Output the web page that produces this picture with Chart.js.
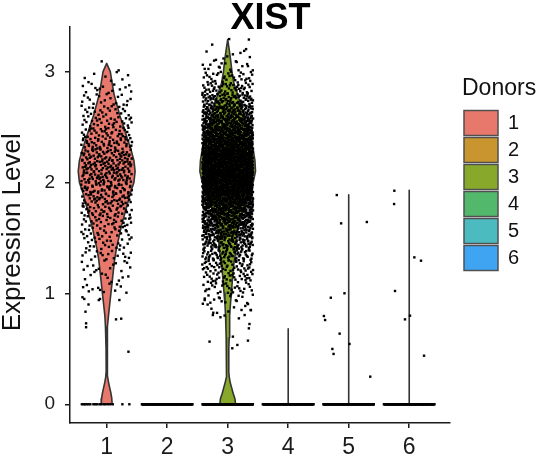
<!DOCTYPE html>
<html>
<head>
<meta charset="utf-8">
<title>XIST</title>
<script src="https://cdn.jsdelivr.net/npm/chart.js@4.4.1/dist/chart.umd.min.js"></script>
<style>
  html, body { margin: 0; padding: 0; background: #ffffff; }
</style>
</head>
<body>
<canvas id="violinChart" width="541" height="456"></canvas>
<script>
// categories and axis ticks
var donors = [1, 2, 3, 4, 5, 6];
var donorColors = ['#E9786C', '#C9952F', '#87A82A', '#52B86C', '#4CBBC0', '#3FA5F2'];
var yTicks = [0, 1, 2, 3];

// violin outlines: expression level -> half width (category units)
var violinLevels1 = [0, 0.05, 0.1, 0.15, 0.2, 0.25, 0.3, 0.4, 0.5, 0.6, 0.7, 0.8, 0.9, 1.0, 1.1, 1.2, 1.3, 1.4, 1.5, 1.6, 1.7, 1.8, 1.9, 2.0, 2.1, 2.2, 2.3, 2.4, 2.5, 2.6, 2.7, 2.8, 2.9, 3.0, 3.075];
var violinWidths1 = [0.09, 0.085, 0.07, 0.05, 0.03, 0.015, 0.008, 0.008, 0.01, 0.015, 0.02, 0.03, 0.05, 0.07, 0.09, 0.11, 0.13, 0.16, 0.2, 0.24, 0.29, 0.34, 0.39, 0.45, 0.47, 0.45, 0.4, 0.34, 0.28, 0.22, 0.17, 0.12, 0.09, 0.06, 0];
var violinLevels3 = [0, 0.05, 0.1, 0.15, 0.2, 0.25, 0.3, 0.4, 0.5, 0.6, 0.7, 0.8, 0.9, 1.0, 1.1, 1.2, 1.3, 1.4, 1.5, 1.6, 1.7, 1.8, 1.9, 2.0, 2.1, 2.2, 2.3, 2.4, 2.5, 2.6, 2.7, 2.8, 2.9, 3.0, 3.1, 3.2, 3.29];
var violinWidths3 = [0.13, 0.12, 0.09, 0.065, 0.04, 0.025, 0.017, 0.017, 0.02, 0.025, 0.03, 0.035, 0.045, 0.06, 0.075, 0.09, 0.11, 0.14, 0.15, 0.17, 0.21, 0.28, 0.35, 0.42, 0.46, 0.45, 0.42, 0.37, 0.32, 0.27, 0.22, 0.16, 0.1, 0.07, 0.05, 0.025, 0];
// donors 4-6 are flat: only the max value shows
var violinTops = [null, null, null, 0.68, 1.89, 1.93];

// jittered cells: counts per 0.1 bin
var binSize = 0.1;
var cloudStart1 = 1.0;
var cloudCounts1 = [12, 10, 14, 18, 22, 26, 32, 40, 48, 55, 60, 60, 55, 46, 38, 30, 24, 18, 14, 8, 2];
var cloudStart3 = 0.8;
var cloudCounts3 = [10, 18, 28, 38, 50, 65, 85, 110, 140, 170, 200, 230, 245, 250, 235, 210, 180, 145, 110, 80, 52, 32, 18, 8, 3];

// sparse cells [jitter, level]
var sparse1 = [[-0.40, 0.965], [-0.37, 0.95], [-0.30, 0.90], [-0.13, 0.94], [-0.11, 0.95], [-0.35, 0.835], [-0.34, 0.73], [-0.34, 0.695], [0.155, 0.766], [0.24, 0.772], [0.36, 0.474], [0.21, 0.94]];
var sparse3 = [[-0.30, 0.565], [0.086, 0.61], [0.076, 0.505], [0.16, 0.535], [0.335, 0.574], [0.35, 0.685], [0.36, 0.724], [0.38, 0.85], [0.185, 0.775], [0.28, 0.805], [-0.12, 0.785], [-0.245, 0.805], [-0.38, 0.94], [0.35, 3.29]];
var sparse5 = [[-0.197, 1.887], [-0.125, 1.632], [0.30, 1.644], [-0.07, 1.001], [-0.296, 0.961], [-0.41, 0.796], [-0.39, 0.76], [-0.15, 0.637], [0.013, 0.544], [-0.27, 0.499], [-0.25, 0.454], [0.356, 0.249]];
var sparse6 = [[-0.246, 1.926], [-0.25, 1.806], [0.085, 1.325], [0.195, 1.295], [-0.235, 1.022], [-0.07, 0.766], [0.013, 0.799], [0.245, 0.438]];
// cells at zero
var zeroOffsets1 = [-0.41, -0.38, -0.36, -0.33, -0.30, -0.27, -0.22, -0.19, -0.16, -0.12, -0.09, -0.05, -0.02, 0.02, 0.06, 0.10, 0.26, 0.375];
var zeroCounts = [0, 120, 140, 120, 120, 120];

var jitterWidth = 0.42;

// low discrepancy sequence to place cells inside a bin (no randomness)
function halton(i, b) {
    var f = 1, r = 0;
    while (i > 0) {
        f = f / b;
        r += f * (i % b);
        i = Math.floor(i / b);
    }
    return r;
}

var seq = 1;
function cloudPoints(center, start, counts) {
    var pts = [];
    for (var b = 0; b < counts.length; b++) {
        for (var k = 0; k < counts[b]; k++) {
            pts.push({
                x: center + (halton(seq, 3) * 2 - 1) * jitterWidth,
                y: start + b * binSize + halton(seq, 2) * binSize
            });
            seq++;
        }
    }
    return pts;
}

function zeroPoints(center, n) {
    var pts = [];
    for (var k = 0; k < n; k++) {
        pts.push({ x: center + (halton(seq, 3) * 2 - 1) * jitterWidth, y: 0 });
        seq++;
    }
    return pts;
}

function sparsePoints(center, list) {
    return list.map(function (p) { return { x: center + p[0], y: p[1] }; });
}

function violinOutline(center, levels, widths) {
    var pts = [];
    for (var i = 0; i < levels.length; i++) pts.push({ x: center + widths[i], y: levels[i] });
    for (var j = levels.length - 1; j >= 0; j--) pts.push({ x: center - widths[j], y: levels[j] });
    pts.push(pts[0]);
    return pts;
}

var datasets = [];

// violins
function addViolin(idx, outline) {
    datasets.push({
        label: 'violin' + donors[idx],
        data: outline,
        showLine: true,
        fill: 'shape',
        backgroundColor: donorColors[idx],
        borderColor: '#333333',
        borderWidth: 1.6,
        borderJoinStyle: 'round',
        pointRadius: 0,
        tension: 0,
        order: 1
    });
}
addViolin(0, violinOutline(donors[0], violinLevels1, violinWidths1));
addViolin(2, violinOutline(donors[2], violinLevels3, violinWidths3));
for (var v = 0; v < donors.length; v++) {
    if (violinTops[v] !== null) {
        addViolin(v, violinOutline(donors[v], [0, violinTops[v]], [0, 0]));
    }
}

// jittered cells
var cells = [];
cells = cells.concat(sparsePoints(donors[0], zeroOffsets1.map(function (d) { return [d, 0]; })));
cells = cells.concat(sparsePoints(donors[0], sparse1));
cells = cells.concat(cloudPoints(donors[0], cloudStart1, cloudCounts1));
cells = cells.concat(sparsePoints(donors[2], sparse3));
cells = cells.concat(cloudPoints(donors[2], cloudStart3, cloudCounts3));
cells = cells.concat(sparsePoints(donors[4], sparse5));
cells = cells.concat(sparsePoints(donors[5], sparse6));
for (var z = 0; z < donors.length; z++) {
    cells = cells.concat(zeroPoints(donors[z], zeroCounts[z]));
}
datasets.push({
    label: 'cells',
    data: cells,
    pointRadius: 1.7,
    pointStyle: 'rect',
    pointBackgroundColor: '#000000',
    pointBorderWidth: 0,
    order: 0
});

// the legend box gets a fixed width so that it starts where the reference legend starts
var legendWidth = {
    id: 'legendWidth',
    beforeLayout: function (chart) {
        var lg = chart.legend;
        if (lg && !lg._fixedWidth) {
            var fit = lg.fit;
            lg.fit = function () {
                fit.call(this);
                this.width = 79;
            };
            lg._fixedWidth = true;
        }
    }
};

Chart.defaults.font.family = "'Liberation Sans', Arial, Helvetica, sans-serif";
Chart.defaults.color = '#1a1a1a';

var axisColor = '#1a1a1a';
var ctx = document.getElementById('violinChart').getContext('2d');
var myChart = new Chart(ctx, {
    type: 'scatter',
    data: { datasets: datasets },
    plugins: [legendWidth],
    options: {
        responsive: false,
        animation: false,
        events: [],
        layout: { padding: 0 },
        scales: {
            x: {
                type: 'linear',
                min: 0.394,
                max: 6.674,
                afterBuildTicks: function (s) { s.ticks = donors.map(function (d) { return { value: d }; }); },
                afterFit: function (s) { s.height = 33; },
                ticks: { font: { size: 23 }, color: axisColor, padding: 6, maxRotation: 0, autoSkip: false },
                grid: { drawOnChartArea: false, drawTicks: true, tickLength: 5, color: axisColor, lineWidth: 1.5 },
                border: { display: true, color: axisColor, width: 1.5 }
            },
            y: {
                type: 'linear',
                min: -0.169,
                max: 3.403,
                afterBuildTicks: function (s) { s.ticks = yTicks.map(function (t) { return { value: t }; }); },
                afterFit: function (s) { s.width = 70; },
                ticks: { font: { size: 19 }, color: axisColor, padding: 10 },
                grid: { drawOnChartArea: false, drawTicks: true, tickLength: 5, color: axisColor, lineWidth: 1.5 },
                border: { display: true, color: axisColor, width: 1.5 },
                title: { display: true, text: 'Expression Level  ', font: { size: 26, lineHeight: 0.95 }, color: '#111111', padding: 0 }
            },
            pad: {
                type: 'linear',
                position: 'right',
                grid: { display: false },
                border: { display: false },
                ticks: { display: false },
                afterFit: function (s) { s.width = 12; }
            }
        },
        plugins: {
            title: {
                display: true,
                text: 'XIST',
                color: '#000000',
                font: { size: 36, weight: 'bold', lineHeight: 0.75 },
                padding: { top: 6, bottom: -6 }
            },
            legend: {
                position: 'right',
                align: 'start',
                title: {
                    display: true,
                    text: 'Donors',
                    position: 'start',
                    color: '#111111',
                    font: { size: 23 },
                    padding: { top: 77, bottom: 4 }
                },
                labels: {
                    boxWidth: 34,
                    boxHeight: 25,
                    padding: 2,
                    color: '#111111',
                    font: { size: 20 },
                    generateLabels: function () {
                        return donors.map(function (d, i) {
                            return {
                                text: String(d),
                                fillStyle: donorColors[i],
                                strokeStyle: '#505050',
                                lineWidth: 1.5,
                                hidden: false,
                                datasetIndex: 0
                            };
                        });
                    }
                }
            },
            tooltip: { enabled: false }
        }
    }
});
</script>
</body>
</html>
